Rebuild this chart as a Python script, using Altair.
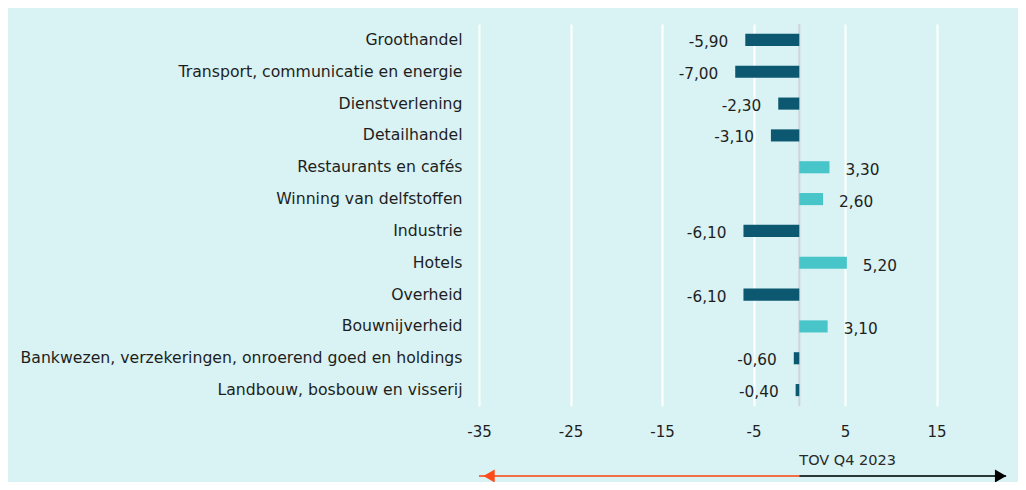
import altair as alt
import pandas as pd

categories = [
    "Groothandel",
    "Transport, communicatie en energie",
    "Dienstverlening",
    "Detailhandel",
    "Restaurants en cafés",
    "Winning van delfstoffen",
    "Industrie",
    "Hotels",
    "Overheid",
    "Bouwnijverheid",
    "Bankwezen, verzekeringen, onroerend goed en holdings",
    "Landbouw, bosbouw en visserij",
]
values = [-5.9, -7.0, -2.3, -3.1, 3.3, 2.6, -6.1, 5.2, -6.1, 3.1, -0.6, -0.4]
x_ticks = [-35, -25, -15, -5, 5, 15, 25]
arrow_label = "TOV Q4 2023"

FONT = "DejaVu Sans"
DARK = "#0b5870"
LIGHT = "#48c5c9"
BG = "#d9f2f3"
TEXT = "#1e1e1e"

df = pd.DataFrame({"cat": categories, "val": values})
df["label"] = [f"{v:.2f}".replace(".", ",") for v in values]
df["sign"] = ["neg" if v < 0 else "pos" for v in values]

xscale = alt.Scale(domain=[-35, 23.9], nice=False, zero=False)
yscale = alt.Scale(domain=categories, paddingInner=0.62, paddingOuter=0.31)

base = alt.Chart(df)

bars = base.mark_bar().encode(
    x=alt.X("val:Q", scale=xscale, title=None,
            axis=alt.Axis(values=x_ticks, grid=True, gridColor="white", gridWidth=2,
                          domain=False, ticks=False, labelPadding=18, labelFlush=False,
                          labelFontSize=15, labelColor=TEXT, labelFont=FONT,
                          labelExpr="replace(datum.label, '\u2212', '-')")),
    x2=alt.datum(0),
    y=alt.Y("cat:N", scale=yscale, sort=categories, title=None,
            axis=alt.Axis(domain=False, ticks=False, labelPadding=17,
                          labelFontSize=15.7, labelColor=TEXT, labelFont=FONT,
                          labelLimit=600)),
    color=alt.Color("sign:N", scale=alt.Scale(domain=["neg", "pos"], range=[DARK, LIGHT]),
                    legend=None),
)

zero = alt.Chart(pd.DataFrame({"z": [0]})).mark_rule(color="#cfd6d6", strokeWidth=2).encode(
    x=alt.X("z:Q", scale=xscale)
)

neg_text = base.transform_filter("datum.val < 0").mark_text(
    align="right", baseline="middle", dx=-17, dy=2, fontSize=15.3, font=FONT, color=TEXT
).encode(x=alt.X("val:Q", scale=xscale), y=alt.Y("cat:N", scale=yscale, sort=categories),
         text="label:N")

pos_text = base.transform_filter("datum.val >= 0").mark_text(
    align="left", baseline="middle", dx=16, dy=3, fontSize=15.3, font=FONT, color=TEXT
).encode(x=alt.X("val:Q", scale=xscale), y=alt.Y("cat:N", scale=yscale, sort=categories),
         text="label:N")

arrow_df = pd.DataFrame({"a": [0], "b": [-35], "c": [22.6]})
arrows = alt.Chart(arrow_df)
left_line = arrows.mark_rule(color="#f26e47", strokeWidth=2).encode(
    x=alt.X("a:Q", scale=xscale), x2="b:Q", y=alt.value(452)
)
right_line = arrows.mark_rule(color="#2b3636", strokeWidth=2).encode(
    x=alt.X("a:Q", scale=xscale), x2="c:Q", y=alt.value(452)
)
left_head = arrows.mark_point(shape="triangle-left", filled=True, color="#ff4a1a",
                              size=170, opacity=1).encode(
    x=alt.X("lh:Q", scale=xscale), y=alt.value(452)
).transform_calculate(lh="-33.9")
right_head = arrows.mark_point(shape="triangle-right", filled=True, color="black",
                               size=170, opacity=1).encode(
    x=alt.X("rh:Q", scale=xscale), y=alt.value(452)
).transform_calculate(rh="22.0")
arrow_text = arrows.mark_text(align="left", baseline="middle", fontSize=14.5, font=FONT,
                              color="#2a2a2a").encode(
    x=alt.X("a:Q", scale=xscale), y=alt.value(437), text=alt.value(arrow_label)
)

chart = alt.layer(zero, bars, neg_text, pos_text, left_line, right_line,
                  left_head, right_head, arrow_text).properties(
    width=539, height=382,
    autosize=alt.AutoSizeParams(type="none"),
    padding={"left": 471, "top": 16, "right": 0, "bottom": 76},
    background=BG,
).configure_view(stroke=None)

chart.save("out.html", embed_options={"renderer": "svg", "actions": False})
